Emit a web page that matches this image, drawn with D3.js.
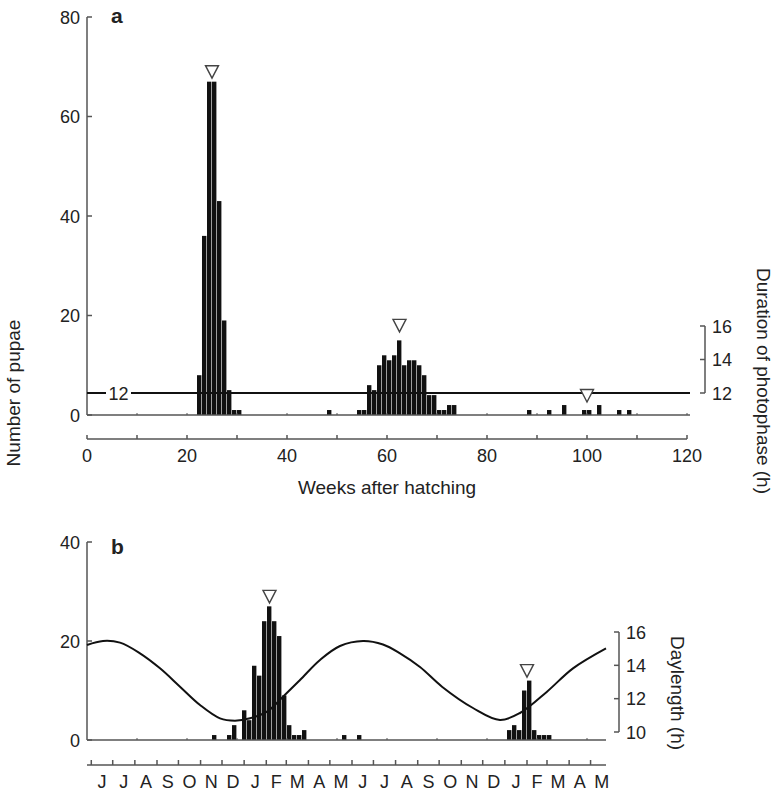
<!DOCTYPE html>
<html>
<head>
<meta charset="utf-8">
<script src="https://cdn.jsdelivr.net/npm/d3@7"></script>
<style>
  body { margin: 0; background: #fff; }
  text { font-family: Arial, "Liberation Sans", sans-serif; fill: #222; }
</style>
</head>
<body>
<svg id="chart"></svg>
<script>
const W = 778;
const H = 791;

// panel a: pupae per week after hatching (constant 12 h photophase)
const pupaeA = [
	[22, 8], [23, 36], [24, 67], [25, 67], [26, 43], [27, 19], [28, 5], [29, 1], [30, 1],
	[48, 1], [54, 1], [55, 1], [56, 6], [57, 5], [58, 10], [59, 12], [60, 11], [61, 12],
	[62, 15], [63, 10], [64, 11], [65, 11], [66, 10], [67, 8], [68, 4], [69, 4], [70, 1],
	[71, 1], [72, 2], [73, 2], [88, 1], [92, 1], [95, 2], [99, 1], [100, 1], [102, 2],
	[106, 1], [108, 1]
];
const markersA = [[25, 67.7], [62.5, 16.7], [100, 2.6]];
const photophaseA = 12;
const yTicksA = [0, 20, 40, 60, 80];
const xTicksA = [0, 20, 40, 60, 80, 100, 120];
const photoTicks = [12, 14, 16];

// panel b: pupae per week under natural daylength (weeks from 26 May)
const pupaeB = [
	[25, 1], [28, 1], [29, 3], [31, 6], [32, 4], [33, 15], [34, 13], [35, 24], [36, 27],
	[37, 24], [38, 21], [39, 9], [40, 3], [41, 1], [42, 1], [43, 2], [51, 1], [54, 1],
	[84, 2], [85, 3], [86, 2], [87, 10], [88, 12], [89, 2], [90, 1], [91, 1], [92, 1]
];
const markersB = [[36.5, 27.7], [88, 12.7]];
const daylength = [
	[0, 15.22], [3.2, 15.46], [6.6, 15.36], [10.6, 14.72], [14.6, 13.82], [18.6, 12.72],
	[22.6, 11.62], [26.6, 10.82], [29.6, 10.68], [32.6, 10.82], [36, 11.22], [39.2, 12.12],
	[42.6, 13.12], [46.6, 14.32], [50.6, 15.16], [55.2, 15.46], [59.2, 15.25], [62.6, 14.72],
	[66.6, 13.9], [71, 12.72], [77.2, 11.44], [82.6, 10.72], [86.6, 11.14], [92, 12.42],
	[97.2, 13.82], [103.8, 15.02]
];
const monthLabels = ["J", "J", "A", "S", "O", "N", "D", "J", "F", "M", "A", "M",
	"J", "J", "A", "S", "O", "N", "D", "J", "F", "M", "A", "M"];
const yTicksB = [0, 20, 40];
const dayTicks = [10, 12, 14, 16];

const AXIS = "#555";
const svg = d3.select("#chart").attr("width", W).attr("height", H);

function line(g, x1, y1, x2, y2, w = 1.5) {
	g.append("line").attr("x1", x1).attr("y1", y1).attr("x2", x2).attr("y2", y2)
		.attr("stroke", AXIS).attr("stroke-width", w);
}

function bars(g, data, x, y) {
	g.selectAll("rect.bar").data(data).enter().append("rect")
		.attr("class", "bar")
		.attr("x", d => x(d[0]))
		.attr("width", x(1) - x(0) - 0.6)
		.attr("y", d => y(d[1]))
		.attr("height", d => y(0) - y(d[1]))
		.attr("fill", "#111");
}

function markers(g, data, x, y) {
	g.selectAll("path.mk").data(data).enter().append("path")
		.attr("class", "mk")
		.attr("d", d => {
			let cx = x(d[0]), ty = y(d[1]);
			return `M${cx - 6.5},${ty - 12.5}L${cx + 6.5},${ty - 12.5}L${cx},${ty}Z`;
		})
		.attr("fill", "#fff").attr("stroke", "#444").attr("stroke-width", 1.4);
}

function leftAxis(g, y, ticks, x0) {
	line(g, x0, y(ticks[ticks.length - 1]), x0, y(0));
	ticks.forEach(t => {
		line(g, x0, y(t), x0 + 5, y(t));
		g.append("text").attr("x", x0 - 7).attr("y", y(t) + 6.5)
			.attr("text-anchor", "end").attr("font-size", 18).text(t);
	});
}

function rightAxis(g, y, ticks, x0) {
	line(g, x0, y(ticks[0]), x0, y(ticks[ticks.length - 1]));
	ticks.forEach(t => {
		line(g, x0 - 5, y(t), x0, y(t));
		g.append("text").attr("x", x0 + 7).attr("y", y(t) + 6.5)
			.attr("font-size", 18).text(t);
	});
}

function baselineTicks(g, x, y0, from, to) {
	d3.range(from, to + 1, 10).forEach(w => line(g, x(w), y0, x(w), y0 - 2, 1));
}

// ---------- panel a ----------
const gA = svg.append("g");
const xA = d3.scaleLinear().domain([0, 120]).range([87, 687]);
const yA = d3.scaleLinear().domain([0, 80]).range([415, 17]);
const pA = d3.scaleLinear().domain([12, 16]).range([393, 326]);

bars(gA, pupaeA, xA, yA);
line(gA, xA(0), yA(0), xA(120) + 3, yA(0));
baselineTicks(gA, xA, yA(0), 10, 120);
leftAxis(gA, yA, yTicksA, xA(0));

// photophase line with inline label
gA.append("line").attr("x1", xA(0)).attr("x2", xA(120) + 3)
	.attr("y1", pA(photophaseA)).attr("y2", pA(photophaseA))
	.attr("stroke", "#111").attr("stroke-width", 2);
gA.append("rect").attr("x", 106).attr("y", pA(photophaseA) - 8).attr("width", 25).attr("height", 16)
	.attr("fill", "#fff");
gA.append("text").attr("x", 118.5).attr("y", pA(photophaseA) + 6.5).attr("text-anchor", "middle")
	.attr("font-size", 18).text(photophaseA);

markers(gA, markersA, xA, yA);
rightAxis(gA, pA, photoTicks, 705);

// separate week axis below
const axY = 439;
line(gA, xA(0), axY, xA(120), axY);
d3.range(0, 121, 10).forEach(w => line(gA, xA(w), axY, xA(w), axY - 4));
xTicksA.forEach(w => {
	gA.append("text").attr("x", xA(w)).attr("y", axY + 22.5).attr("text-anchor", "middle")
		.attr("font-size", 18).text(w);
});
gA.append("text").attr("x", xA(60)).attr("y", 494).attr("text-anchor", "middle")
	.attr("font-size", 19).text("Weeks after hatching");
gA.append("text").attr("transform", "translate(20,393) rotate(-90)").attr("text-anchor", "middle")
	.attr("font-size", 19).text("Number of pupae");
gA.append("text").attr("transform", "translate(757,381) rotate(90)").attr("text-anchor", "middle")
	.attr("font-size", 19).text("Duration of photophase (h)");
gA.append("text").attr("x", 111).attr("y", 23).attr("font-size", 21)
	.attr("font-weight", "bold").text("a");

// ---------- panel b ----------
const gB = svg.append("g");
const start = new Date(2001, 4, 26);
const xB = d3.scaleLinear().domain([0, 104]).range([87, 607]);
const yB = d3.scaleLinear().domain([0, 40]).range([740, 542]);
const dB = d3.scaleLinear().domain([10, 16]).range([732, 632]);
const toWeeks = date => (date - start) / (7 * 864e5);

bars(gB, pupaeB, xB, yB);
line(gB, xB(0), yB(0), xB(103.8), yB(0));
baselineTicks(gB, xB, yB(0), 10, 100);
leftAxis(gB, yB, yTicksB, xB(0));

gB.append("path").datum(daylength)
	.attr("d", d3.line().x(d => xB(d[0])).y(d => dB(d[1])).curve(d3.curveCatmullRom))
	.attr("fill", "none").attr("stroke", "#111").attr("stroke-width", 2);

markers(gB, markersB, xB, yB);
rightAxis(gB, dB, dayTicks, 619);

const axYB = 765;
line(gB, xB(0), axYB, xB(103.8), axYB);
const months = d3.timeMonth.range(new Date(2001, 5, 1), new Date(2003, 5, 2));
months.slice(0, 24).forEach((m, i) => {
	let w0 = toWeeks(m), w1 = toWeeks(months[i + 1]);
	line(gB, xB(w0), axYB, xB(w0), axYB - 5);
	gB.append("text").attr("x", (xB(w0) + xB(w1)) / 2).attr("y", axYB + 23)
		.attr("text-anchor", "middle").attr("font-size", 18).text(monthLabels[i]);
});
gB.append("text").attr("transform", "translate(671,693) rotate(90)").attr("text-anchor", "middle")
	.attr("font-size", 19).text("Daylength (h)");
gB.append("text").attr("x", 111).attr("y", 554).attr("font-size", 21)
	.attr("font-weight", "bold").text("b");
</script>
</body>
</html>
